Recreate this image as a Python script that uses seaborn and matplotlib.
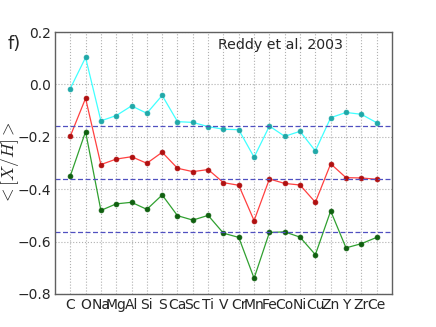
import numpy as np
import pandas as pd
import matplotlib
matplotlib.use("Agg")
import matplotlib.pyplot as plt
import seaborn as sns

# elements along the x axis
elementos = ["C", "O", "Na", "Mg", "Al", "Si", "S", "Ca", "Sc", "Ti", "V",
             "Cr", "Mn", "Fe", "Co", "Ni", "Cu", "Zn", "Y", "Zr", "Ce"]

# <[X/H]> per series
serie_cyan = [-0.016, 0.103, -0.139, -0.119, -0.082, -0.110, -0.042, -0.142, -0.145, -0.161, -0.171,
              -0.173, -0.278, -0.159, -0.198, -0.179, -0.254, -0.127, -0.107, -0.114, -0.146]
serie_roja = [-0.198, -0.053, -0.306, -0.285, -0.276, -0.301, -0.259, -0.320, -0.333, -0.325, -0.375,
              -0.385, -0.520, -0.361, -0.378, -0.384, -0.450, -0.303, -0.356, -0.357, -0.362]
serie_verde = [-0.350, -0.180, -0.481, -0.456, -0.450, -0.477, -0.422, -0.501, -0.518, -0.500, -0.568,
               -0.584, -0.740, -0.565, -0.563, -0.583, -0.650, -0.483, -0.624, -0.608, -0.584]

# mean levels (dashed lines)
medias = [-0.159, -0.362, -0.565]

sns.set_style("white")
plt.rcParams["mathtext.fontset"] = "cm"
plt.rcParams["font.family"] = ["DejaVu Sans"]

fig = plt.figure(figsize=(4.36, 3.27), dpi=100)
ax = fig.add_axes([0.126, 0.101, 0.773, 0.801])

pos = np.arange(1, len(elementos) + 1)
series = [
    (serie_cyan, "#40ffff", "#20a8a8"),
    (serie_roja, "#ff4040", "#b01010"),
    (serie_verde, "#30a030", "#106010"),
]
for vals, col_linea, col_borde in series:
    df = pd.DataFrame({"x": pos, "y": vals})
    sns.lineplot(data=df, x="x", y="y", ax=ax, color=col_linea, lw=0.9,
                 marker="o", markersize=3.5, markerfacecolor=col_borde,
                 markeredgecolor=col_borde, markeredgewidth=0.5)

for m in medias:
    ax.axhline(m, color="#5050c0", ls="--", lw=0.9, dashes=(4, 2))

ax.set_xlim(0, 22)
ax.set_ylim(-0.8, 0.2)
ax.set_xticks(pos)
ax.set_xticklabels(elementos, fontsize=10)
ax.set_yticks([-0.8, -0.6, -0.4, -0.2, 0.0, 0.2])
ax.set_yticklabels(["\u22120.8", "\u22120.6", "\u22120.4", "\u22120.2", "0.0", "0.2"], fontsize=10)
ax.tick_params(length=0, pad=3)
ax.grid(True, color="#b0b0b0", ls=":", lw=0.8)
ax.set_xlabel("")
ax.set_ylabel(r"$<[X/H]>$", fontsize=12.5)
ax.yaxis.set_label_coords(-0.100, 0.5)
for s in ax.spines.values():
    s.set_color("#606060")
    s.set_linewidth(1.0)

ax.text(0.484, 0.935, "Reddy et al. 2003", transform=ax.transAxes,
        ha="left", va="baseline", fontsize=10.2)
fig.text(0.018, 0.85, "f)", fontsize=13)

fig.savefig("out.png", dpi=100)
